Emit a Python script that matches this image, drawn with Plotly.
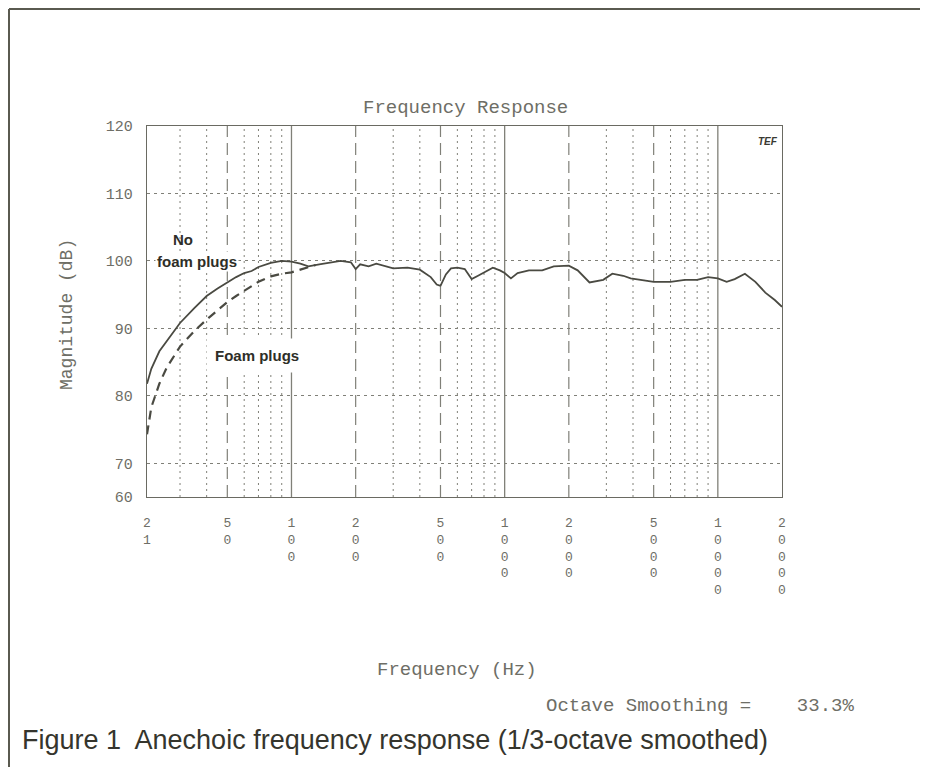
import math
import plotly.graph_objects as go

# ---------------- data ----------------
freq_no_foam = [21, 22, 24, 27, 30, 35, 40, 45, 50, 55, 60, 65, 70, 80, 90, 100, 110, 120, 135, 150,
                170, 190, 200, 210, 230, 250, 280, 300, 350, 400, 450, 480, 500, 530, 560, 600, 650,
                700, 750, 800, 880, 950, 1000, 1070, 1150, 1300, 1500, 1700, 2000, 2200, 2500, 2900,
                3200, 3600, 3900, 4500, 5000, 6000, 7000, 8000, 9000, 10000, 11000, 12000, 13400,
                15000, 16700, 18500, 20000]
mag_no_foam = [81.8, 84.0, 86.6, 88.9, 90.8, 93.0, 94.8, 95.9, 96.8, 97.6, 98.2, 98.5, 99.1, 99.7,
               100.0, 99.9, 99.6, 99.2, 99.5, 99.7, 100.0, 99.8, 98.8, 99.5, 99.2, 99.6, 99.2, 98.9,
               99.0, 98.7, 97.6, 96.5, 96.3, 98.0, 98.9, 99.0, 98.8, 97.3, 97.8, 98.3, 99.0, 98.6,
               98.2, 97.4, 98.2, 98.6, 98.6, 99.2, 99.3, 98.6, 96.8, 97.2, 98.1, 97.8, 97.4, 97.1,
               96.9, 96.9, 97.2, 97.2, 97.6, 97.4, 96.9, 97.3, 98.1, 96.9, 95.3, 94.2, 93.2]

freq_foam = [21, 22, 24, 26, 30, 35, 40, 45, 50, 55, 60, 65, 70, 80, 90, 100, 110, 120, 130]
mag_foam = [74.3, 78.3, 81.8, 84.2, 87.3, 89.6, 91.3, 92.7, 93.9, 94.8, 95.6, 96.3, 96.9, 97.7,
            98.1, 98.3, 98.7, 99.1, 99.4]

x_tick_vals = [21, 50, 100, 200, 500, 1000, 2000, 5000, 10000, 20000]
x_tick_text = ["2<br>1", "5<br>0", "1<br>0<br>0", "2<br>0<br>0", "5<br>0<br>0",
               "1<br>0<br>0<br>0", "2<br>0<br>0<br>0", "5<br>0<br>0<br>0",
               "1<br>0<br>0<br>0<br>0", "2<br>0<br>0<br>0<br>0"]
y_tick_vals = [65, 70, 80, 90, 100, 110, 120]
y_tick_text = ["60", "70", "80", "90", "100", "110", "120"]

grid_solid = [100, 1000, 10000]
grid_dashed = [50, 200, 500, 2000, 5000]
grid_dotted = [30, 40, 60, 70, 80, 90, 300, 400, 600, 700, 800, 900,
               3000, 4000, 6000, 7000, 8000, 9000]

Y_MIN, Y_MAX = 65, 120
X_MIN, X_MAX = 21, 20000

PLOT_FONT = "Liberation Mono, DejaVu Sans Mono, monospace"
TXT = "#6e6e66"
GRID = "#808078"
CURVE = "#4a4a42"


def vlines(freqs):
    xs, ys = [], []
    for f in freqs:
        xs += [f, f, None]
        ys += [Y_MIN, Y_MAX, None]
    return xs, ys


fig = go.Figure()

for freqs, dash, w in [(grid_dotted, "2px,4px", 1), (grid_dashed, "12px,6px", 1.2),
                       (grid_solid, "solid", 1.3)]:
    xs, ys = vlines(freqs)
    fig.add_trace(go.Scatter(x=xs, y=ys, mode="lines", hoverinfo="skip", showlegend=False,
                             line=dict(color=GRID, width=w, dash=dash)))

fig.add_trace(go.Scatter(x=freq_foam, y=mag_foam, mode="lines", name="Foam plugs",
                         showlegend=False,
                         line=dict(color=CURVE, width=2.2, dash="9px,6px")))
fig.add_trace(go.Scatter(x=freq_no_foam, y=mag_no_foam, mode="lines", name="No foam plugs",
                         showlegend=False, line=dict(color=CURVE, width=1.8)))

fig.update_layout(
    width=920, height=759,
    margin=dict(l=139, r=146, t=118, b=270),
    paper_bgcolor="white", plot_bgcolor="white",
    showlegend=False,
    xaxis=dict(type="log", range=[math.log10(X_MIN), math.log10(X_MAX)],
               tickmode="array", tickvals=x_tick_vals, ticktext=x_tick_text,
               showgrid=False, zeroline=False,
               showline=True, mirror=True, linecolor="#6a6a62", linewidth=1.3,
               ticks="outside", ticklen=13, tickcolor="rgba(0,0,0,0)",
               tickfont=dict(family=PLOT_FONT, size=13, color=TXT)),
    yaxis=dict(range=[Y_MIN, Y_MAX], tickmode="array", tickvals=y_tick_vals, ticktext=y_tick_text,
               showgrid=True, gridcolor=GRID, griddash="3px,4px", gridwidth=1,
               zeroline=False, showline=True, mirror=True, linecolor="#6a6a62", linewidth=1.3,
               ticks="outside", ticklen=10, tickcolor="rgba(0,0,0,0)",
               tickfont=dict(family=PLOT_FONT, size=15, color=TXT)),
)


# helpers converting screenshot pixel positions to paper coordinates of the plot area
def px_x(px):
    return (px - 147) / 635.0


def px_y(py):
    return (497 - py) / 371.0


ann = [
    dict(text="Frequency Response", x=px_x(465), y=px_y(108), size=19),
    dict(text="Frequency (Hz)", x=px_x(457), y=px_y(670), size=19),
    dict(text="Octave Smoothing =    33.3%", x=px_x(700), y=px_y(706), size=19),
]
for a in ann:
    fig.add_annotation(text=a["text"].replace("  ", "&nbsp; "), xref="paper", yref="paper",
                       x=a["x"], y=a["y"], showarrow=False, xanchor="center", yanchor="middle",
                       font=dict(family=PLOT_FONT, size=a["size"], color=TXT))

fig.add_annotation(text="Magnitude (dB)", xref="paper", yref="paper", x=px_x(67), y=px_y(315),
                   textangle=-90, showarrow=False, xanchor="center", yanchor="middle",
                   font=dict(family=PLOT_FONT, size=18, color=TXT))

fig.add_annotation(text="Figure 1  Anechoic frequency response (1/3-octave smoothed)".replace("  ", "&nbsp; "),
                   xref="paper", yref="paper", x=px_x(20), y=px_y(740), showarrow=False,
                   xanchor="left", yanchor="middle",
                   font=dict(family="Liberation Sans, Arial, sans-serif", size=27, color="#35352d"))

LABEL_FONT = "Liberation Sans, Arial, sans-serif"
fig.add_annotation(text="<b>No</b>", xref="paper", yref="paper", x=px_x(183), y=px_y(239),
                   showarrow=False, xanchor="center", yanchor="middle",
                   font=dict(family=LABEL_FONT, size=15, color="#2e2e28"))
fig.add_annotation(text="<b>foam plugs</b>", xref="paper", yref="paper", x=px_x(197), y=px_y(261),
                   showarrow=False, xanchor="center", yanchor="middle", bgcolor="white",
                   font=dict(family=LABEL_FONT, size=15, color="#2e2e28"))
fig.add_annotation(text="<b>Foam plugs</b>", xref="paper", yref="paper", x=px_x(257), y=px_y(355),
                   showarrow=False, xanchor="center", yanchor="middle", bgcolor="white",
                   borderpad=8,
                   font=dict(family=LABEL_FONT, size=15, color="#2e2e28"))
fig.add_annotation(text="<b><i>TEF</i></b>", xref="paper", yref="paper", x=px_x(768), y=px_y(141),
                   showarrow=False, xanchor="center", yanchor="middle",
                   font=dict(family=LABEL_FONT, size=10, color="#3a3a32"))

# outer frame (top and left edges of the figure box)
fig.add_shape(type="line", xref="paper", yref="paper", x0=px_x(9), x1=px_x(930), y0=px_y(9), y1=px_y(9),
              line=dict(color="#5a5a50", width=2))
fig.add_shape(type="line", xref="paper", yref="paper", x0=px_x(9), x1=px_x(9), y0=px_y(9), y1=px_y(770),
              line=dict(color="#5a5a50", width=2))

fig.write_html("out.html")
